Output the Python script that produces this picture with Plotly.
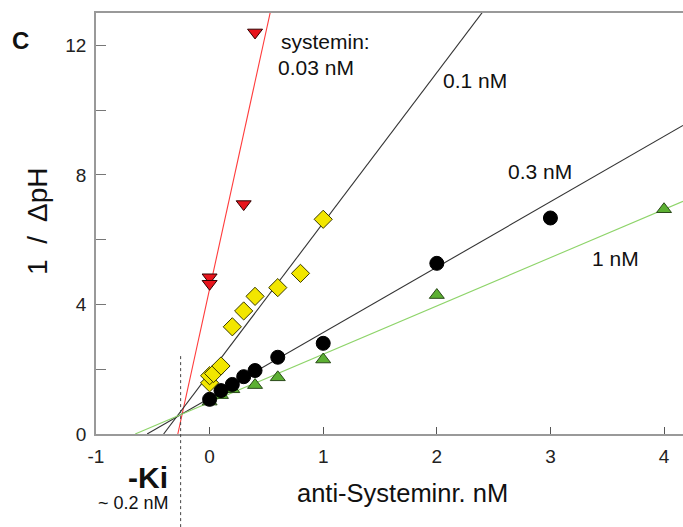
import plotly.graph_objects as go

# ---- data ----
red_x = [0, 0, 0.3, 0.4]
red_y = [4.84, 4.64, 7.1, 12.4]

yellow_x = [0, 0, 0.035, 0.1, 0.2, 0.3, 0.4, 0.6, 0.8, 1.0]
yellow_y = [1.58, 1.8, 1.87, 2.1, 3.31, 3.8, 4.25, 4.52, 4.96, 6.63]

black_x = [0, 0.1, 0.2, 0.3, 0.4, 0.6, 1.0, 2.0, 3.0]
black_y = [1.07, 1.34, 1.53, 1.77, 1.96, 2.37, 2.8, 5.27, 6.67]

green_x = [0, 0.1, 0.2, 0.4, 0.6, 1.0, 2.0, 4.0]
green_y = [1.0, 1.2, 1.38, 1.51, 1.75, 2.3, 4.29, 6.94]

# fitted lines: x-intercept and slope
line_names = ["0.03 nM", "0.1 nM", "0.3 nM", "1 nM"]
line_x0 = [-0.28, -0.405, -0.55, -0.655]
line_slope = [16.0, 4.64, 2.02, 1.49]
line_colors = ["#ff3b3b", "#333333", "#333333", "#8ed46a"]

x_range = [-1, 4.167]
y_range = [0, 13.0]
ki_x = -0.255

FONT = "Arial, Liberation Sans, sans-serif"

fig = go.Figure()

for x0, s, c in zip(line_x0, line_slope, line_colors):
    xs = [x0, x_range[1]]
    ys = [s * (xx - x0) for xx in xs]
    fig.add_trace(go.Scatter(x=xs, y=ys, mode="lines",
                             line=dict(color=c, width=1.1),
                             showlegend=False, hoverinfo="skip"))

fig.add_trace(go.Scatter(x=green_x, y=green_y, mode="markers",
                         marker=dict(symbol="triangle-up", size=13, color="#5cb032",
                                     line=dict(color="#2a4a1a", width=1)),
                         showlegend=False))
fig.add_trace(go.Scatter(x=black_x, y=black_y, mode="markers",
                         marker=dict(symbol="circle", size=14, color="#000000",
                                     line=dict(color="#000000", width=1)),
                         showlegend=False))
fig.add_trace(go.Scatter(x=yellow_x, y=yellow_y, mode="markers",
                         marker=dict(symbol="diamond", size=14, color="#f2e600",
                                     line=dict(color="#3a3a00", width=1)),
                         showlegend=False))
fig.add_trace(go.Scatter(x=red_x, y=red_y, mode="markers",
                         marker=dict(symbol="triangle-down", size=13, color="#e8141c",
                                     line=dict(color="#300000", width=1)),
                         showlegend=False))

# dotted vertical Ki line
fig.add_shape(type="line", xref="x", yref="paper", x0=ki_x, x1=ki_x,
              y0=0.185, y1=-0.23, line=dict(color="#444444", width=1, dash="dot"))

W, H = 683, 527
l, r, t, b = 96, 0, 13, 93
pw, ph = W - l - r, H - t - b

ann = []
def txt(xpix, ypix, s, size, bold=False, xanchor="left", textangle=0):
    ann.append(dict(x=(xpix - l) / pw, y=1 - (ypix - t) / ph, xref="paper", yref="paper",
                    text=("<b>%s</b>" % s) if bold else s,
                    showarrow=False, xanchor=xanchor, yanchor="middle",
                    font=dict(family=FONT, size=size, color="#111111"),
                    textangle=textangle))

txt(20, 40, "C", 24, bold=True, xanchor="center")
txt(279, 41, "systemin:", 21)
txt(276, 67, "0.03 nM", 21)
txt(441, 81, "0.1 nM", 21)
txt(506, 172, "0.3 nM", 21)
txt(590, 258, "1 nM", 21)
txt(170, 478, "-Ki", 30, bold=True, xanchor="right")
txt(171, 503, "~ 0.2 nM", 18, xanchor="right")
txt(402, 493, "anti-Systeminr. nM", 25.5, xanchor="center")
txt(37, 222, "1  /  ΔpH", 28, xanchor="center", textangle=-90)

fig.update_layout(
    width=W, height=H,
    margin=dict(l=l, r=r, t=t, b=b),
    plot_bgcolor="white", paper_bgcolor="white",
    font=dict(family=FONT, size=19, color="#222222"),
    showlegend=False,
    annotations=ann,
)

fig.update_xaxes(range=x_range, tickvals=[-1, 0, 1, 2, 3, 4],
                 ticktext=["-1", "0", "1", "2", "3", "4"],
                 ticks="inside", ticklen=7, tickwidth=1.2, tickcolor="#555555",
                 showline=True, linecolor="#999999", linewidth=1.5, mirror=True,
                 showgrid=False, zeroline=False, ticklabelstandoff=4,
                 tickfont=dict(family=FONT, size=19, color="#222222"))
fig.update_yaxes(range=y_range, tickvals=[0, 2, 4, 6, 8, 10, 12],
                 ticktext=["0", "", "4", "", "8", "", "12"],
                 ticks="inside", ticklen=10, tickwidth=1.2, tickcolor="#777777",
                 showline=True, linecolor="#999999", linewidth=1.5, mirror=False,
                 showgrid=False, zeroline=False, ticklabelstandoff=4,
                 tickfont=dict(family=FONT, size=19, color="#222222"))

fig.write_html("out.html")
